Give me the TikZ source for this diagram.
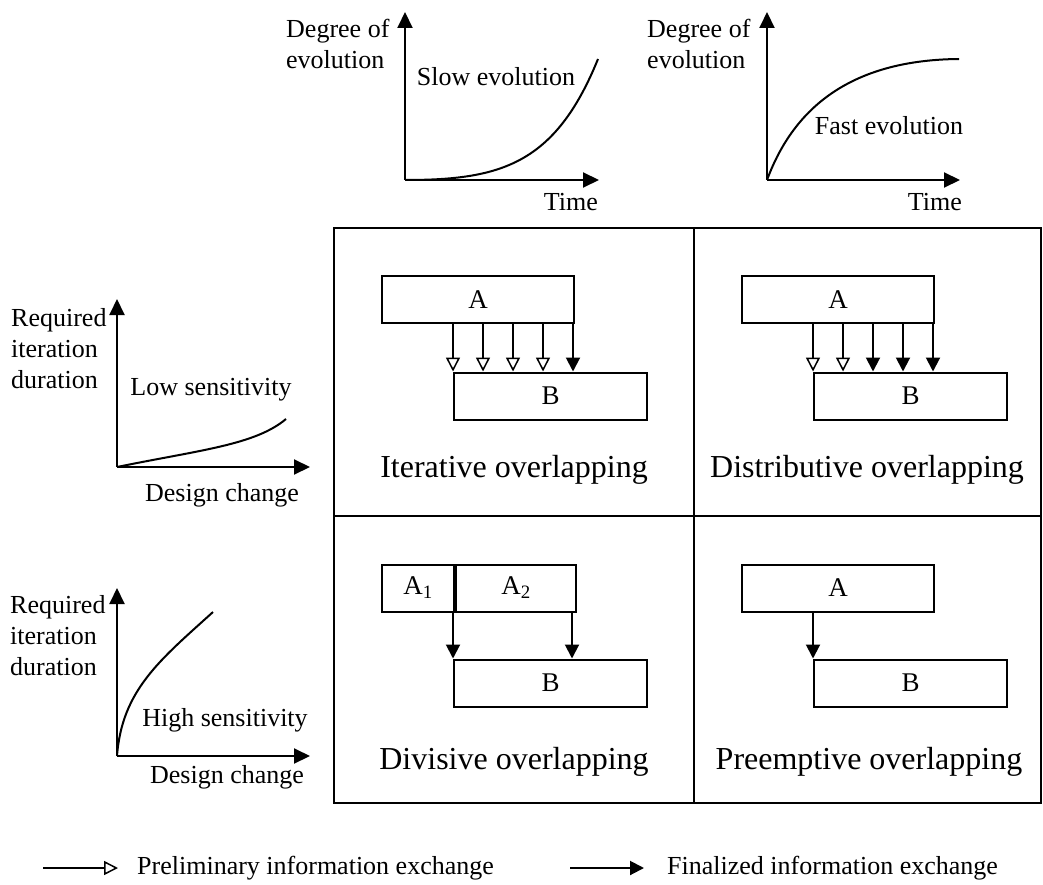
\documentclass[tikz,border=0pt]{standalone}
\usepackage{fontspec}
\setmainfont{Liberation Serif}
\usetikzlibrary{arrows.meta,calc}
\begin{document}
\begin{tikzpicture}[x=1pt,y=-1pt,
  lbl/.style={font=\fontsize{26}{31}\selectfont, inner sep=0pt, align=left},
  big/.style={font=\fontsize{32}{38}\selectfont, inner sep=0pt},
  task/.style={draw, line width=2pt, minimum height=47pt, inner sep=0pt,
               font=\fontsize{27}{32}\selectfont},
  axis/.style={line width=2pt, -{Triangle[length=16pt,width=15pt]}},
  curve/.style={line width=2pt},
  prelim/.style={line width=2pt, -{Triangle[open, length=14pt, width=14pt, line width=1.5pt]}},
  final/.style={line width=2pt, -{Triangle[length=14pt, width=14pt]}},
  gridline/.style={line width=2.5pt}]
\useasboundingbox (0,0) rectangle (1043,885);

% ---------- evolution charts (top) ----------
\coordinate (o1) at (405,180);
\coordinate (y1) at (405,12);
\coordinate (x1) at (599,180);
\draw[axis] (o1) -- (y1);
\draw[axis] (o1) -- (x1);
\draw[curve] (o1) .. controls (500,180) and (555,165) .. (598,59);
\node[lbl, anchor=west] (deg1) at (286,44) {Degree of\\evolution};
\node[lbl] (slow) at (496,77) {Slow evolution};
\node[lbl, anchor=east] (time1) at (598,202) {Time};

\coordinate (o2) at (767,180);
\coordinate (y2) at (767,12);
\coordinate (x2) at (960,180);
\draw[axis] (o2) -- (y2);
\draw[axis] (o2) -- (x2);
\draw[curve] (o2) .. controls (790,118) and (840,60) .. (959,59);
\node[lbl, anchor=west] (deg2) at (647,44) {Degree of\\evolution};
\node[lbl] (fast) at (889,126) {Fast evolution};
\node[lbl, anchor=east] (time2) at (962,202) {Time};

% ---------- sensitivity charts (left) ----------
\coordinate (o3) at (117,467);
\coordinate (y3) at (117,299);
\coordinate (x3) at (310,467);
\draw[axis] (o3) -- (y3);
\draw[axis] (o3) -- (x3);
\draw[curve] (o3) .. controls (200,450) and (255,445) .. (286,419);
\node[lbl, anchor=west] (req3) at (11,349) {Required\\iteration\\duration};
\node[lbl] (low) at (211,390) {Low sensitivity};
\node[lbl] (dc3) at (222,495) {Design change};

\coordinate (o4) at (117,756);
\coordinate (y4) at (117,588);
\coordinate (x4) at (310,756);
\draw[axis] (o4) -- (y4);
\draw[axis] (o4) -- (x4);
\draw[curve] (o4) .. controls (122,690) and (160,660) .. (213,612);
\node[lbl, anchor=west] (req4) at (10,636) {Required\\iteration\\duration};
\node[lbl] (high) at (225,720) {High sensitivity};
\node[lbl] (dc4) at (227,777) {Design change};

% ---------- 2x2 matrix ----------
\draw[gridline] (334,228) rectangle (1041,803);
\draw[gridline] (694,228) -- (694,803);
\draw[gridline] (334,516) -- (1041,516);

% iterative overlapping
\node[task, minimum width=192pt] (A1) at (478,299.5) {A};
\node[task, minimum width=193pt] (B1) at (550.5,396) {B};
\foreach \k in {0,...,3}{
  \coordinate (t1\k) at ($(B1.north west)+(\k*30,0)$);
  \draw[prelim] (t1\k |- A1.south) -- (t1\k);
}
\coordinate (t14) at ($(B1.north west)+(120,0)$);
\draw[final] (t14 |- A1.south) -- (t14);
\node[big] (lab1) at (514,470) {Iterative overlapping};

% distributive overlapping
\node[task, minimum width=192pt] (A2) at (838,299.5) {A};
\node[task, minimum width=193pt] (B2) at (910.5,396) {B};
\foreach \k in {0,1}{
  \coordinate (t2\k) at ($(B2.north west)+(\k*30,0)$);
  \draw[prelim] (t2\k |- A2.south) -- (t2\k);
}
\foreach \k in {2,3,4}{
  \coordinate (t2\k) at ($(B2.north west)+(\k*30,0)$);
  \draw[final] (t2\k |- A2.south) -- (t2\k);
}
\node[big] (lab2) at (867,470) {Distributive overlapping};

% divisive overlapping
\node[task, minimum width=72pt] (A31) at (418,588) {A\textsubscript{1}};
\node[task, minimum width=120pt, anchor=west] (A32) at (A31.east) {A\textsubscript{2}};
\node[task, minimum width=193pt] (B3) at (550.5,683) {B};
\draw[final] (B3.north west |- A31.south) -- (B3.north west);
\coordinate (t31) at ($(B3.north west)+(119,0)$);
\draw[final] (t31 |- A32.south) -- (t31);
\node[big] (lab3) at (514,762) {Divisive overlapping};

% preemptive overlapping
\node[task, minimum width=192pt] (A4) at (838,588) {A};
\node[task, minimum width=193pt] (B4) at (910.5,683) {B};
\draw[final] (B4.north west |- A4.south) -- (B4.north west);
\node[big] (lab4) at (869,762) {Preemptive overlapping};

% ---------- legend ----------
\coordinate (p0) at (43,868);
\coordinate (p1) at (118,868);
\draw[prelim] (p0) -- (p1);
\node[lbl, anchor=west] (plab) at (137,868) {Preliminary information exchange};
\coordinate (f0) at (570,868);
\coordinate (f1) at (644,868);
\draw[final] (f0) -- (f1);
\node[lbl, anchor=west] (flab) at (667,868) {Finalized information exchange};
\end{tikzpicture}
\end{document}
